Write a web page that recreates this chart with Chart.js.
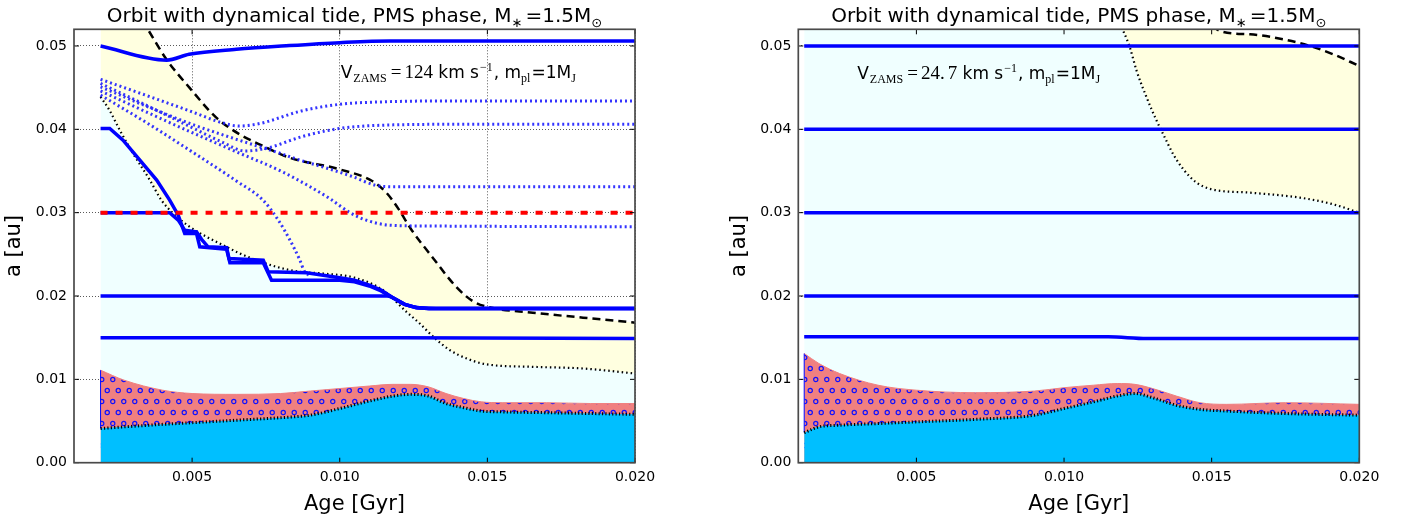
<!DOCTYPE html>
<html>
<head>
<meta charset="utf-8">
<title>Orbit with dynamical tide, PMS phase</title>
<script src="https://cdn.jsdelivr.net/npm/chart.js@4.4.1/dist/chart.umd.min.js"></script>
<style>
  html, body { margin: 0; padding: 0; background: #fff; }
  .panel { position: absolute; top: 0; width: 703px; height: 517px; }
  #left { left: 0; }
  #right { left: 703px; }
</style>
</head>
<body>
<div class="panel" id="left"><canvas id="cl" width="703" height="517"></canvas></div>
<div class="panel" id="right"><canvas id="cr" width="703" height="517"></canvas></div>
<script>
// axis ticks
var xTicks = [0.005, 0.010, 0.015, 0.020];
var yTicks = [0.00, 0.01, 0.02, 0.03, 0.04, 0.05];

// ---- left panel, V_ZAMS = 124 km/s ----
// star radius (top of blue) and hatched band top
var starAgeL = [0.0019, 0.0027, 0.0040, 0.0050, 0.0065, 0.0080, 0.0090, 0.0100, 0.0110, 0.0118, 0.0124, 0.0130, 0.0136, 0.0142, 0.0148, 0.0155, 0.0170, 0.0185, 0.0200];
var rstarL   = [0.0041, 0.0043, 0.0046, 0.0048, 0.0051, 0.0054, 0.0057, 0.0065, 0.0074, 0.0080, 0.0082, 0.0080, 0.0071, 0.0066, 0.0062, 0.0061, 0.0060, 0.0059, 0.0058];
var bandL    = [0.0111, 0.0099, 0.0087, 0.0083, 0.0082, 0.0083, 0.0086, 0.0089, 0.0092, 0.0094, 0.0094, 0.0091, 0.0083, 0.0077, 0.0073, 0.0072, 0.0072, 0.0071, 0.0071];
// lower (dotted) and upper (dashed) edge of the yellow zone
var lowAgeL = [0.0019, 0.0022, 0.00255, 0.0030, 0.00357, 0.00396, 0.00436, 0.00492, 0.00549, 0.00605, 0.00662, 0.00718, 0.00786, 0.00865, 0.00944, 0.0105, 0.01147, 0.01226, 0.01271, 0.01317, 0.01373, 0.0143, 0.01497, 0.01655, 0.01825, 0.0200];
var lowL    = [0.0439, 0.0423, 0.0399, 0.0371, 0.0339, 0.0315, 0.0299, 0.0283, 0.0271, 0.0261, 0.0251, 0.0243, 0.0235, 0.0229, 0.0227, 0.0222, 0.0207, 0.0181, 0.0167, 0.0151, 0.0135, 0.0125, 0.0118, 0.0115, 0.0113, 0.0107];
var upAgeL = [0.0019, 0.0027, 0.0035, 0.00413, 0.00491, 0.00582, 0.00661, 0.0074, 0.0083, 0.0100, 0.0111, 0.01158, 0.0120, 0.0124, 0.01315, 0.01397, 0.0145, 0.0150, 0.01654, 0.01824, 0.0200];
var upL    = [0.0610, 0.0565, 0.0520, 0.0484, 0.0450, 0.0414, 0.0394, 0.0380, 0.0366, 0.0352, 0.0338, 0.0324, 0.0304, 0.0281, 0.0246, 0.0210, 0.0194, 0.0187, 0.0180, 0.0174, 0.0168];
// planet orbits (solid)
var p50AgeL = [0.0019, 0.00414, 0.0049, 0.0065, 0.0083, 0.0100, 0.0117, 0.0200];
var p50L    = [0.0500, 0.0483, 0.0490, 0.0496, 0.05005, 0.0504, 0.0506, 0.0506];
var p40AgeL = [0.0019, 0.00221, 0.00266, 0.00323, 0.0038, 0.00424, 0.00453, 0.00475, 0.00515, 0.00526, 0.00617, 0.00628, 0.00741, 0.00769, 0.0100, 0.0105, 0.0110, 0.0114, 0.0118, 0.0122, 0.0126, 0.0130, 0.0200];
var p40L    = [0.0401, 0.0401, 0.0387, 0.0363, 0.0339, 0.0315, 0.0297, 0.0275, 0.0275, 0.0259, 0.0256, 0.0240, 0.0240, 0.0219, 0.0219, 0.0217, 0.0212, 0.0206, 0.0198, 0.0190, 0.0186, 0.0185, 0.0185];
var p30AgeL = [0.0019, 0.00424, 0.00453, 0.00475, 0.00515, 0.00532, 0.00554, 0.00617, 0.00625, 0.00741, 0.00758, 0.00888, 0.0100, 0.0105, 0.0110, 0.0114, 0.0118, 0.0122, 0.0126, 0.0130, 0.0200];
var p30L    = [0.0300, 0.0300, 0.0291, 0.0279, 0.0277, 0.0268, 0.0259, 0.0258, 0.0245, 0.0243, 0.0229, 0.0228, 0.0222, 0.0219, 0.0213, 0.0207, 0.0198, 0.0190, 0.0186, 0.0185, 0.0185];
var p20AgeL = [0.0019, 0.0116, 0.0122, 0.0127, 0.0135, 0.0200];
var p20L    = [0.0200, 0.0200, 0.0190, 0.0186, 0.0185, 0.0185];
var p15AgeL = [0.0019, 0.0120, 0.0200];
var p15L    = [0.0150, 0.0150, 0.0149];
var redAgeL = [0.0019, 0.0200];
var redL    = [0.0300, 0.0300];
// planet orbits (dotted)
var d1Age = [0.0019, 0.0035, 0.0050, 0.0060, 0.0066, 0.0073, 0.0087, 0.0100, 0.0115, 0.0140, 0.0200];
var d1    = [0.0460, 0.0440, 0.0421, 0.0408, 0.0404, 0.0407, 0.0422, 0.0430, 0.0433, 0.0434, 0.0434];
var d2Age = [0.0019, 0.0035, 0.0050, 0.0060, 0.0068, 0.0076, 0.0087, 0.0100, 0.0115, 0.0140, 0.0200];
var d2    = [0.0455, 0.0428, 0.0402, 0.0385, 0.0374, 0.0378, 0.0391, 0.0401, 0.0405, 0.0406, 0.0406];
var d3Age = [0.0019, 0.0035, 0.0050, 0.0065, 0.0080, 0.00865, 0.0096, 0.01045, 0.0112, 0.0118, 0.0130, 0.0200];
var d3    = [0.0451, 0.0427, 0.0406, 0.0388, 0.0371, 0.0363, 0.0353, 0.0343, 0.0333, 0.0331, 0.0331, 0.0331];
var d4Age = [0.0019, 0.0035, 0.0050, 0.0065, 0.0080, 0.0090, 0.0097, 0.0103, 0.0109, 0.0117, 0.0130, 0.0200];
var d4    = [0.0446, 0.0420, 0.0396, 0.0373, 0.0350, 0.0331, 0.0316, 0.0301, 0.0291, 0.0285, 0.0284, 0.0283];
var d5Age = [0.0019, 0.0035, 0.0050, 0.0065, 0.0074, 0.0079, 0.0083, 0.00865, 0.0088, 0.0090];
var d5    = [0.0441, 0.0407, 0.0373, 0.0338, 0.0315, 0.0292, 0.0268, 0.0243, 0.0230, 0.0224];

// ---- right panel, V_ZAMS = 24.7 km/s ----
var starAgeR = [0.0012, 0.0017, 0.0024, 0.0037, 0.0050, 0.0070, 0.0090, 0.0100, 0.0110, 0.0118, 0.0124, 0.0130, 0.0138, 0.0146, 0.0155, 0.0175, 0.0200];
var rstarR   = [0.0036, 0.0043, 0.0045, 0.0047, 0.0049, 0.0052, 0.0057, 0.0065, 0.0073, 0.0080, 0.0083, 0.0078, 0.0069, 0.0064, 0.0062, 0.0059, 0.0057];
var bandR    = [0.0131, 0.0119, 0.0107, 0.0093, 0.0087, 0.0084, 0.0086, 0.0090, 0.0093, 0.0095, 0.0094, 0.0089, 0.0080, 0.0072, 0.0070, 0.0072, 0.0070];
var lowAgeR = [0.0012, 0.0105, 0.0116, 0.01203, 0.01223, 0.01246, 0.0128, 0.01314, 0.01336, 0.0137, 0.01404, 0.01449, 0.0150, 0.0163, 0.01799, 0.01912, 0.0200];
var lowR    = [0.0750, 0.0600, 0.0545, 0.0516, 0.0498, 0.0470, 0.0438, 0.0410, 0.0394, 0.0370, 0.0352, 0.0336, 0.0328, 0.0324, 0.0318, 0.0310, 0.0300];
var upAgeR = [0.0012, 0.0118, 0.0140, 0.0146, 0.01528, 0.0163, 0.01742, 0.01833, 0.01912, 0.0200];
var upR    = [0.0900, 0.0660, 0.0575, 0.0545, 0.0518, 0.0514, 0.0508, 0.0500, 0.0490, 0.0476];
var flatAgeR = [0.0012, 0.0200];
var p50R = [0.0500, 0.0500];
var p40R = [0.0400, 0.0400];
var p30R = [0.0300, 0.0300];
var p20R = [0.0200, 0.0200];
var p15AgeR = [0.0012, 0.0115, 0.0128, 0.0200];
var p15R    = [0.0151, 0.0151, 0.0149, 0.0149];

var SANS = '"DejaVu Sans"';
var SERIF = '"Liberation Serif"';

function pts(xs, ys) {
  return xs.map(function (x, i) { return { x: x, y: ys[i] }; });
}

function line(xs, ys, style) {
  return Object.assign({
    data: pts(xs, ys), fill: false, pointRadius: 0, borderWidth: 3.5,
    borderColor: '#0000ff', tension: 0
  }, style);
}

function hatch(ctx) {
  var tile = document.createElement('canvas');
  tile.width = 11; tile.height = 22;
  var t = tile.getContext('2d');
  t.fillStyle = '#f08080';
  t.fillRect(0, 0, 11, 22);
  t.strokeStyle = '#1010ff';
  t.lineWidth = 1.2;
  t.beginPath(); t.arc(2.75, 5.5, 2.1, 0, 2 * Math.PI); t.stroke();
  t.beginPath(); t.arc(8.25, 16.5, 2.1, 0, 2 * Math.PI); t.stroke();
  return ctx.createPattern(tile, 'repeat');
}

function drawRich(c, parts, x, y, center) {
  var w = 0;
  parts.forEach(function (p) { c.font = p[1]; w += c.measureText(p[0]).width + (p[3] || 0); });
  var cx = center ? x - w / 2 : x;
  parts.forEach(function (p) {
    c.font = p[1];
    c.fillText(p[0], cx, y + (p[2] || 0));
    cx += c.measureText(p[0]).width + (p[3] || 0);
  });
}

var decor = {
  id: 'decor',
  afterDraw: function (chart, args, o) {
    var c = chart.ctx, a = chart.chartArea, xs = chart.scales.x, ys = chart.scales.y;
    c.save();
    c.strokeStyle = '#000';
    c.lineWidth = 1;
    c.beginPath();
    xs.ticks.forEach(function (t) {
      var p = xs.getPixelForValue(t.value);
      c.moveTo(p, a.bottom); c.lineTo(p, a.bottom - 5);
      c.moveTo(p, a.top); c.lineTo(p, a.top + 5);
    });
    ys.ticks.forEach(function (t) {
      var p = ys.getPixelForValue(t.value);
      c.moveTo(a.left, p); c.lineTo(a.left + 5, p);
      c.moveTo(a.right, p); c.lineTo(a.right - 5, p);
    });
    c.stroke();
    c.strokeStyle = '#4a4a4a';
    c.lineWidth = 1.7;
    c.strokeRect(a.left, a.top, a.right - a.left, a.bottom - a.top);
    c.fillStyle = '#000';
    c.textBaseline = 'alphabetic';
    drawRich(c, o.title, (a.left + a.right) / 2, 22, true);
    drawRich(c, o.note, a.left + o.noteX * (a.right - a.left), a.top + o.noteY * (a.bottom - a.top), false);
    c.restore();
  }
};

var titleParts = [
  ['Orbit with dynamical tide, PMS phase, M', '20px ' + SANS],
  ['\u2217', '13px ' + SANS, 5, 3],
  ['=1.5M', '20px ' + SANS],
  ['\u2299', '13px ' + SANS, 5]
];

function noteParts(v) {
  return [
    ['V', '17px ' + SANS, 0, 1],
    ['ZAMS', '12px ' + SERIF, 4, 4],
    ['=', '19px ' + SERIF, 0, 3]
  ].concat(v).concat([
    [' km s', '17px ' + SANS, 0, 1],
    ['\u22121', '12px ' + SERIF, -7, 1],
    [', m', '17px ' + SANS],
    ['pl', '12px ' + SERIF, 4, 1],
    ['=1M', '17px ' + SANS],
    ['J', '12px ' + SERIF, 4]
  ]);
}

function makeChart(id, datasets, yW, padRight, yTitlePad, note, noteX, noteY) {
  var n = datasets.length;
  datasets.forEach(function (d, i) { d.order = n - i; });
  return new Chart(document.getElementById(id), {
    type: 'line',
    data: { datasets: datasets },
    plugins: [decor],
    options: {
      responsive: false,
      animation: false,
      devicePixelRatio: 1,
      layout: { padding: { left: 0, right: padRight, top: 29.3, bottom: 0 } },
      plugins: {
        legend: { display: false },
        tooltip: { enabled: false },
        decor: { title: titleParts, note: note, noteX: noteX, noteY: noteY }
      },
      scales: {
        x: {
          type: 'linear', min: 0.001, max: 0.020, z: 1,
          afterBuildTicks: function (s) { s.ticks = xTicks.map(function (v) { return { value: v }; }); },
          afterFit: function (s) { s.height = 54.3; },
          grid: { color: 'rgba(0,0,0,0.65)', lineWidth: 1, drawTicks: false },
          border: { display: false, dash: [1, 2] },
          ticks: { color: '#000', padding: 6, font: { family: SANS, size: 14 },
                   callback: function (v) { return v.toFixed(3); } },
          title: { display: true, text: 'Age [Gyr]', color: '#000', font: { family: SANS, size: 21 }, padding: { top: 4, bottom: 0 } }
        },
        y: {
          min: 0, max: 0.052, z: 1,
          afterBuildTicks: function (s) { s.ticks = yTicks.map(function (v) { return { value: v }; }); },
          afterFit: function (s) { s.width = yW; },
          grid: { color: 'rgba(0,0,0,0.65)', lineWidth: 1, drawTicks: false },
          border: { display: false, dash: [1, 2] },
          ticks: { color: '#000', padding: 7, font: { family: SANS, size: 14 },
                   callback: function (v) { return v.toFixed(2); } },
          title: { display: true, text: 'a [au]', color: '#000', font: { family: SANS, size: 21 }, padding: { top: yTitlePad, bottom: 0 } }
        }
      }
    }
  });
}

var dash = { borderColor: '#000', borderWidth: 2.5, borderDash: [8, 5], cubicInterpolationMode: 'monotone', backgroundColor: '#ffffe0' };
var dots = { borderColor: '#000', borderWidth: 2.2, borderDash: [1.5, 3], cubicInterpolationMode: 'monotone', fill: 'origin', backgroundColor: '#f0ffff' };
var rstar = { borderColor: '#000', borderWidth: 3, borderDash: [1.2, 2.2], cubicInterpolationMode: 'monotone', fill: 'origin', backgroundColor: '#00bfff' };
var bdot = { borderColor: 'rgba(30,30,255,0.9)', borderWidth: 3, borderDash: [2, 3], cubicInterpolationMode: 'monotone' };
var smooth = { cubicInterpolationMode: 'monotone' };

// left panel, back to front
var ctxL = document.getElementById('cl').getContext('2d');
var left = [
  line(upAgeL, upL, Object.assign({ fill: { target: 1 } }, dash)),
  line(lowAgeL, lowL, dots),
  line(starAgeL, bandL, { borderColor: '#f08080', borderWidth: 1, fill: 'origin', backgroundColor: hatch(ctxL), cubicInterpolationMode: 'monotone' }),
  line([starAgeL[0], starAgeL[0]], [rstarL[0], bandL[0]], { borderWidth: 1 }),
  line(starAgeL, rstarL, rstar),
  line(d1Age, d1, bdot),
  line(d2Age, d2, bdot),
  line(d3Age, d3, bdot),
  line(d4Age, d4, bdot),
  line(d5Age, d5, bdot),
  line(p15AgeL, p15L, {}),
  line(p20AgeL, p20L, smooth),
  line(p40AgeL, p40L, {}),
  line(p30AgeL, p30L, {}),
  line(p50AgeL, p50L, smooth),
  line(redAgeL, redL, { borderColor: '#ff0000', borderWidth: 4, borderDash: [7, 8] })
];
makeChart('cl', left, 74, 68, 2, noteParts([['124', '19px ' + SERIF]]), 0.4754, 0.113);

// right panel, back to front
var ctxR = document.getElementById('cr').getContext('2d');
var right = [
  line(upAgeR, upR, Object.assign({ fill: { target: 1 } }, dash)),
  line(lowAgeR, lowR, dots),
  line(starAgeR, bandR, { borderColor: '#f08080', borderWidth: 1, fill: 'origin', backgroundColor: hatch(ctxR), cubicInterpolationMode: 'monotone' }),
  line([starAgeR[0], starAgeR[0]], [rstarR[0], bandR[0]], { borderWidth: 1 }),
  line(starAgeR, rstarR, rstar),
  line(p15AgeR, p15R, smooth),
  line(flatAgeR, p20R, {}),
  line(flatAgeR, p30R, {}),
  line(flatAgeR, p40R, {}),
  line(flatAgeR, p50R, {})
];
makeChart('cr', right, 95.3, 46.7, 24.4, noteParts([['24.', '19px ' + SERIF, 0, 3], ['7', '19px ' + SERIF]]), 0.105, 0.115);
</script>
</body>
</html>
